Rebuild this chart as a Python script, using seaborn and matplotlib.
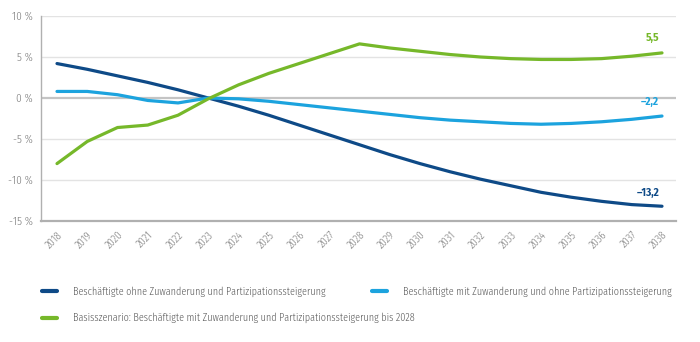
import matplotlib
matplotlib.use("Agg")
import matplotlib.pyplot as plt
from matplotlib.lines import Line2D
from matplotlib import font_manager
import seaborn as sns
import pandas as pd

years = list(range(2018, 2039))
ohne = [4.2, 3.5, 2.7, 1.9, 1.0, 0.0, -1.0, -2.1, -3.3, -4.5, -5.7, -6.9, -8.0, -9.0, -9.9, -10.7, -11.5, -12.1, -12.6, -13.0, -13.2]
mit = [0.8, 0.8, 0.4, -0.3, -0.6, 0.0, -0.1, -0.4, -0.8, -1.2, -1.6, -2.0, -2.4, -2.7, -2.9, -3.1, -3.2, -3.1, -2.9, -2.6, -2.2]
basis = [-8.0, -5.3, -3.6, -3.3, -2.1, -0.1, 1.6, 3.0, 4.2, 5.4, 6.6, 6.1, 5.7, 5.3, 5.0, 4.8, 4.7, 4.7, 4.8, 5.1, 5.5]
series_names = [
    "Beschäftigte ohne Zuwanderung und Partizipationssteigerung",
    "Beschäftigte mit Zuwanderung und ohne Partizipationssteigerung",
    "Basisszenario: Beschäftigte mit Zuwanderung und Partizipationssteigerung bis 2028",
]
end_labels = ["\u201313,2", "\u20132,2", "5,5"]
y_ticks = [10, 5, 0, -5, -10, -15]
y_tick_labels = ["10 %", "5 %", "0 %", "-5 %", "-10 %", "-15 %"]

colors = ["#0e4a87", "#1ca3de", "#76b82a"]
gray = "#777777"

df = pd.concat([
    pd.DataFrame({"Jahr": years, "Wert": vals, "Serie": name})
    for name, vals in zip(series_names, [ohne, mit, basis])
])

sns.set_style("white")
available = {f.name for f in font_manager.fontManager.ttflist}
fam = next((n for n in ["Fira Sans Condensed", "Roboto Condensed", "Barlow Semi Condensed",
                        "Asap Condensed", "Archivo Narrow"] if n in available), "DejaVu Sans")
plt.rcParams["font.family"] = [fam, "DejaVu Sans"]
plt.rcParams["font.weight"] = 300

fig = plt.figure(figsize=(7, 3.42), dpi=100)
ax = fig.add_axes([41/700, 1-221/342, (676-41)/700, (221-16)/342])

for yt in y_ticks:
    if yt == 0:
        ax.axhline(yt, color="#c4c4c4", lw=1.6, zorder=1)
    elif yt == -15:
        pass
    else:
        ax.axhline(yt, color="#e3e3e3", lw=1.0, zorder=1)

sns.lineplot(data=df, x="Jahr", y="Wert", hue="Serie", palette=colors,
             hue_order=series_names, linewidth=2.3, ax=ax, legend=False, zorder=3)

ax.set_xlim(2018 - 16/30.25, 2038 + 14/30.25)
ax.set_ylim(-15, 10)
ax.set_yticks(y_ticks)
ax.set_yticklabels(y_tick_labels)
ax.set_xticks(years)
ax.set_xticklabels([str(y) for y in years], rotation=45, ha="right", rotation_mode="anchor")
ax.tick_params(axis="both", colors=gray, labelsize=7.5, length=0)
ax.tick_params(axis="y", labelsize=8, pad=6)
ax.tick_params(axis="x", pad=6)
ax.set_xlabel("")
ax.set_ylabel("")
for s in ["top", "right"]:
    ax.spines[s].set_visible(False)
ax.spines["left"].set_color("#b0b0b0")
ax.spines["left"].set_linewidth(1.0)
ax.spines["bottom"].set_color("#b0b0b0")
ax.spines["bottom"].set_linewidth(1.6)

offsets = [(-2, 6), (-2, 6), (-2, 7)]
for lab, vals, c, off in zip(end_labels, [ohne, mit, basis], colors, offsets):
    ax.annotate(lab, (years[-1], vals[-1]), xytext=off, textcoords="offset points",
                ha="right", va="bottom", color=c, fontsize=8, fontweight="bold")

handles = [Line2D([0], [0], color=c, lw=3) for c in colors]
leg_kw = dict(loc="upper left", frameon=False, fontsize=7.25, labelcolor="#555555",
              handlelength=1.5, handletextpad=1.55, borderpad=0, borderaxespad=0)
fig.legend([handles[0], handles[2]], [series_names[0], series_names[2]],
           bbox_to_anchor=(42/700, 1-286/342), labelspacing=1.6, **leg_kw)
fig.legend([handles[1]], [series_names[1]],
           bbox_to_anchor=(372/700, 1-286/342), **leg_kw)

fig.savefig("out.png", dpi=100)
